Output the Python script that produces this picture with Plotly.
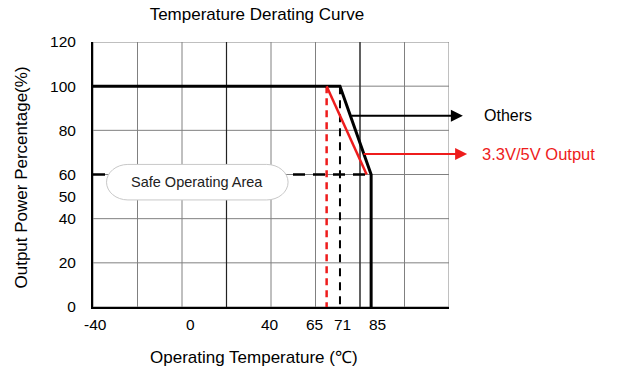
import plotly.graph_objects as go

# ---- data ----
others_temp = [-40, 71, 85, 85]
others_power = [100, 100, 60, 0]
low_v_temp = [65, 83]
low_v_power = [100, 60]
safe_line_temp = [-40, 85]
safe_line_power = [60, 60]
red_dash_temp = [65, 65]
red_dash_power = [100, 0]
black_dash_temp = [71, 71]
black_dash_power = [100, 0]

x_tick_vals = [-40, 0, 40, 65, 71, 85]
x_tick_text = ["-40", "0", "40", "65", "71", "85"]
y_tick_vals = [0, 20, 40, 50, 60, 80, 100, 120]
grid_x = [-40, -20, 0, 20, 40, 60, 80, 100, 120]
grid_y = [0, 20, 40, 60, 80, 100, 120]
dark_grid_x = [20, 80]

FONT = "Liberation Sans, Arial, sans-serif"
RED = "#ee1c1c"

fig = go.Figure()

fig.add_trace(go.Scatter(x=safe_line_temp, y=safe_line_power, mode="lines",
                         line=dict(color="black", width=2.5, dash="12px,8px"), hoverinfo="skip"))
fig.add_trace(go.Scatter(x=black_dash_temp, y=black_dash_power, mode="lines",
                         line=dict(color="black", width=2, dash="8px,6px"), hoverinfo="skip"))
fig.add_trace(go.Scatter(x=red_dash_temp, y=red_dash_power, mode="lines",
                         line=dict(color=RED, width=2.5, dash="7px,5px"), hoverinfo="skip"))
fig.add_trace(go.Scatter(x=others_temp, y=others_power, mode="lines",
                         line=dict(color="black", width=3), hoverinfo="skip"))
fig.add_trace(go.Scatter(x=low_v_temp, y=low_v_power, mode="lines",
                         line=dict(color=RED, width=2.5), hoverinfo="skip"))

shapes = []
for gx in grid_x:
    shapes.append(dict(type="line", xref="x", yref="paper", x0=gx, x1=gx, y0=0, y1=1,
                       line=dict(color="#808080", width=1), layer="below"))
for gy in grid_y:
    shapes.append(dict(type="line", xref="paper", yref="y", x0=0, x1=1, y0=gy, y1=gy,
                       line=dict(color="#808080", width=1), layer="below"))
for gx in dark_grid_x:
    shapes.append(dict(type="line", xref="x", yref="paper", x0=gx, x1=gx, y0=0, y1=1,
                       line=dict(color="#222222", width=1.2), layer="below"))

# Safe operating area rounded label box (paper coordinates)
x0, x1, y0, y1 = 0.038, 0.548, 0.404, 0.538
rx = 0.06
k = 0.55
ym = (y0 + y1) / 2
path = (f"M {x0+rx},{y1} L {x1-rx},{y1} "
        f"C {x1-rx+rx*k},{y1} {x1},{ym+(y1-ym)*k} {x1},{ym} "
        f"C {x1},{ym-(ym-y0)*k} {x1-rx+rx*k},{y0} {x1-rx},{y0} "
        f"L {x0+rx},{y0} "
        f"C {x0+rx-rx*k},{y0} {x0},{ym-(ym-y0)*k} {x0},{ym} "
        f"C {x0},{ym+(y1-ym)*k} {x0+rx-rx*k},{y1} {x0+rx},{y1} Z")
shapes.append(dict(type="path", xref="paper", yref="paper", path=path,
                   fillcolor="white", line=dict(color="#c8c8c8", width=1), layer="above"))

annotations = [
    dict(xref="paper", yref="paper", x=0.293, y=0.471, xanchor="center", yanchor="middle",
         text="Safe Operating Area", showarrow=False,
         font=dict(family=FONT, size=14.5, color="#222")),
    # arrows
    dict(xref="paper", yref="y", x=1.039, y=86.6, ax=-113, ay=0, axref="pixel", ayref="pixel",
         text="", showarrow=True, arrowhead=2, arrowsize=1.2, arrowwidth=2, arrowcolor="black"),
    dict(xref="paper", yref="y", x=1.051, y=69.3, ax=-105, ay=0, axref="pixel", ayref="pixel",
         text="", showarrow=True, arrowhead=2, arrowsize=1.2, arrowwidth=2, arrowcolor=RED),
    dict(xref="paper", yref="y", x=1.093, y=86.6, text="Others", showarrow=False,
         xanchor="left", yanchor="middle", font=dict(family=FONT, size=16, color="black")),
    dict(xref="paper", yref="y", x=1.087, y=69.3, text="3.3V/5V Output", showarrow=False,
         xanchor="left", yanchor="middle", font=dict(family=FONT, size=16.5, color=RED)),
    # axis titles
    dict(xref="paper", yref="paper", x=0.452, y=-0.189, xanchor="center", yanchor="middle",
         text="Operating Temperature (℃)",
         showarrow=False, font=dict(family=FONT, size=17, color="black")),
    dict(xref="paper", yref="paper", x=-0.202, y=0.489, xanchor="center", yanchor="middle",
         text="Output Power Percentage(%)",
         textangle=-90, showarrow=False, font=dict(family=FONT, size=17, color="black")),
]

# x tick labels (placed at their values, nudged like the original drawing)
label_nudge = [2, 8, -1, -12, 3, 6]
for val, txt, dx in zip(x_tick_vals, x_tick_text, label_nudge):
    annotations.append(dict(xref="x", yref="paper", x=val, y=0, xanchor="center", yanchor="middle",
                            yshift=-17, xshift=dx, text=txt, showarrow=False,
                            font=dict(family=FONT, size=15.5, color="black")))

fig.update_layout(
    width=619, height=374,
    margin=dict(l=93, r=170, t=42, b=67),
    paper_bgcolor="white", plot_bgcolor="white",
    showlegend=False,
    title=dict(text="Temperature Derating Curve", x=0.415, xanchor="center",
               y=0.963, yanchor="middle", xref="container", yref="container",
               font=dict(family=FONT, size=17, color="black")),
    xaxis=dict(range=[-40, 120], tickvals=x_tick_vals, showticklabels=False,
               showgrid=False, zeroline=False, showline=True, linecolor="black", linewidth=2,
               ticks=""),
    yaxis=dict(range=[0, 120], tickvals=y_tick_vals,
               showgrid=False, zeroline=False, showline=True, linecolor="black", linewidth=2,
               ticks="", ticklabelstandoff=12,
               tickfont=dict(family=FONT, size=15.5, color="black")),
    shapes=shapes,
    annotations=annotations,
)

fig.write_html("out.html")
